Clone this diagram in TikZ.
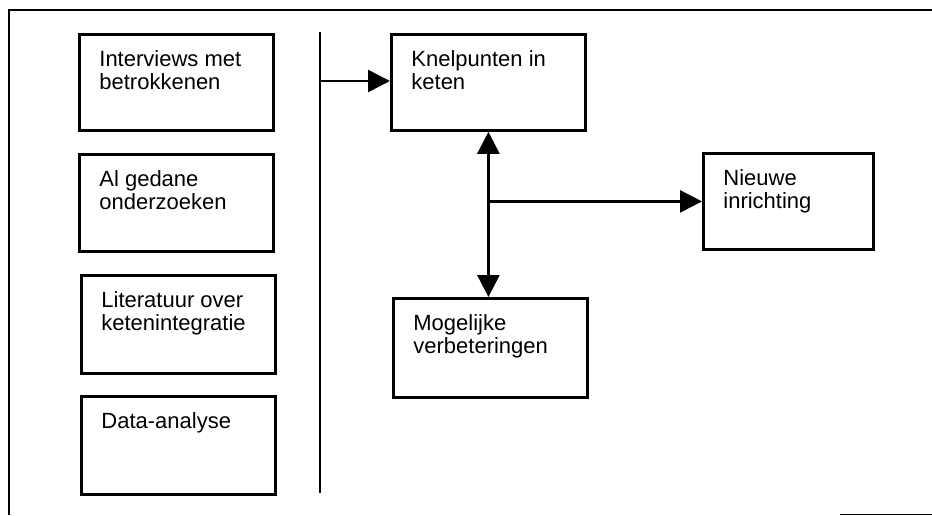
\documentclass[tikz,border=0pt]{standalone}
\usepackage{fontspec}
\setmainfont{Liberation Sans}
\usetikzlibrary{arrows.meta}

% text block set at the top left of a box of the given size
\newcommand{\boxlabel}[3]{%
  \parbox[c][#2][t]{#1}{\leftskip=20pt\parindent=0pt\baselineskip=23pt
    \rule{0pt}{32pt}#3\par}}

\tikzset{
  stage/.style={draw, line width=2.8pt, inner sep=0pt, anchor=north west,
    font=\fontsize{22}{23}\selectfont},
  frameline/.style={line width=2.8pt},
  flow/.style={line width=2.6pt, -{Triangle[length=22pt,width=22pt]}},
  twoway/.style={line width=2.6pt,
    {Triangle[length=22pt,width=22pt]}-{Triangle[length=22pt,width=22pt]}}
}

\begin{document}
\begin{tikzpicture}[x=1pt,y=-1pt]
\useasboundingbox (0,0) rectangle (932,515);

% outer frame
\draw[frameline] (932,10) -- (9,10) -- (9,515);
\draw[line width=1pt] (840,514) -- (932,514);

% sources
\node[stage] (int) at (78,33) {\boxlabel{194pt}{96pt}{Interviews met\\betrokkenen}};
\node[stage] (ond) at (78,153) {\boxlabel{194pt}{97pt}{Al gedane\\onderzoeken}};
\node[stage] (lit) at (80,274) {\boxlabel{194pt}{98pt}{Literatuur over\\ketenintegratie}};
\node[stage] (dat) at (80,395) {\boxlabel{194pt}{98pt}{Data-analyse}};

% divider
\coordinate (divtop) at (320,32);
\coordinate (divbot) at (320,493);
\draw[line width=2.6pt] (divtop) -- (divbot);

% analysis
\node[stage] (kn) at (390,33) {\boxlabel{194pt}{96pt}{Knelpunten in\\keten}};
\node[stage] (mo) at (392,297) {\boxlabel{194pt}{99pt}{Mogelijke\\verbeteringen}};
\node[stage] (ni) at (702,152) {\boxlabel{170pt}{96pt}{Nieuwe\\inrichting}};

% connectors
\coordinate (divmid) at (320,81);
\draw[flow] (divmid) -- (divmid -| kn.west);
\draw[twoway] (kn.south) -- (kn.south |- mo.north);
\coordinate (branch) at (kn.south |- ni.west);
\draw[flow] (branch) -- (ni.west);
\end{tikzpicture}
\end{document}
